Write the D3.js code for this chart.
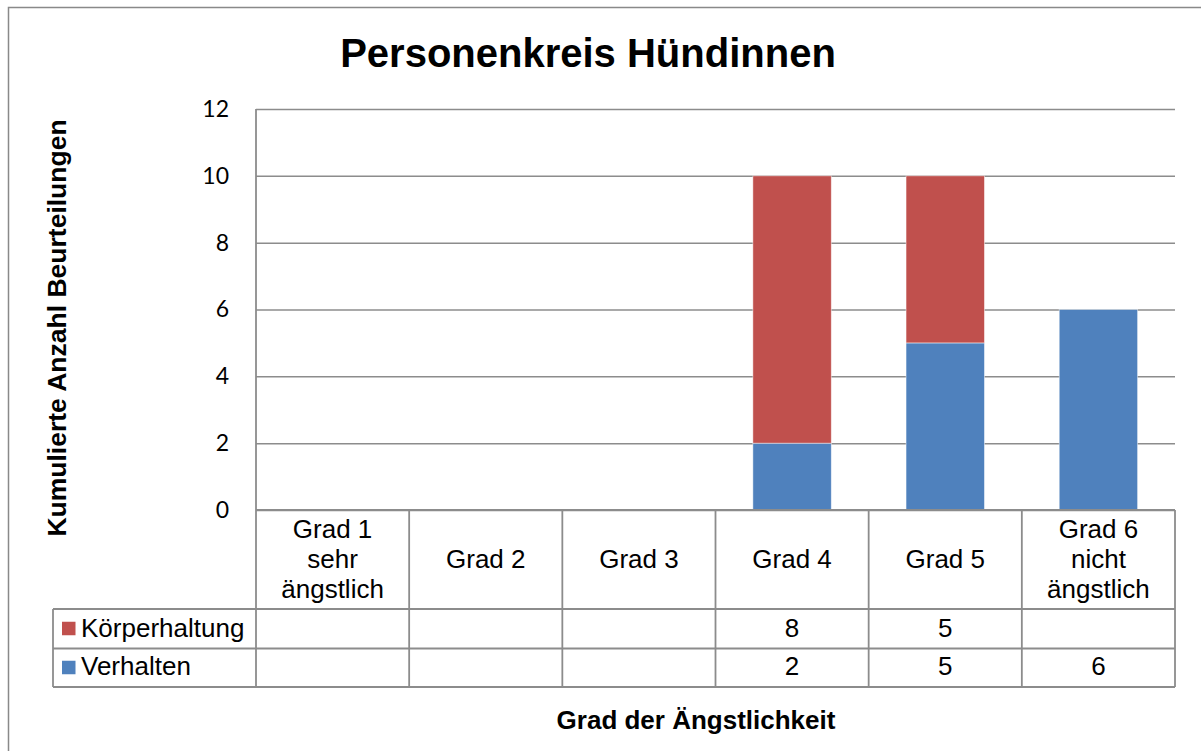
<!DOCTYPE html>
<html>
<head>
<meta charset="utf-8">
<script src="https://cdn.jsdelivr.net/npm/d3@7"></script>
<style>
  html, body { margin: 0; padding: 0; background: #fff; }
  svg { display: block; }
</style>
</head>
<body>
<svg id="chart" width="1201" height="751"></svg>
<script>
// ---- data ----
const categories = ["Grad 1\nsehr\nängstlich", "Grad 2", "Grad 3", "Grad 4", "Grad 5", "Grad 6\nnicht\nängstlich"];
const seriesNames = ["Körperhaltung", "Verhalten"];
const koerperhaltung = [null, null, null, 8, 5, null];
const verhalten = [null, null, null, 2, 5, 6];
const yTicks = [0, 2, 4, 6, 8, 10, 12];
const titleText = "Personenkreis Hündinnen";
const xTitle = "Grad der Ängstlichkeit";
const yTitle = "Kumulierte Anzahl Beurteilungen";

// ---- layout ----
const svg = d3.select("#chart");
const colors = { "Körperhaltung": "#C0504D", "Verhalten": "#4F81BD" };
const lineCol = "#8c8c8c";
const plot = { left: 256, right: 1175, top: 109, bottom: 510 };
const tableRows = [510, 609, 648.5, 687];
const legendLeft = 53;

const x = d3.scaleBand().domain(d3.range(categories.length)).range([plot.left, plot.right]).padding(0);
const y = d3.scaleLinear().domain([0, 12]).range([plot.bottom, plot.top]);
const barW = x.bandwidth() * 0.512;

// outer border
svg.append("rect").attr("x", 8.5).attr("y", 7.5).attr("width", 1210).attr("height", 770)
  .attr("fill", "none").attr("stroke", "#898989").attr("stroke-width", 1.5);

// title
svg.append("text").attr("x", 588).attr("y", 67).attr("text-anchor", "middle")
  .attr("font-family", "Liberation Sans, Arial, sans-serif").attr("font-weight", "bold")
  .attr("font-size", 40).attr("fill", "#000").text(titleText);

// y axis with gridlines
const yAxis = d3.axisLeft(y).tickValues(yTicks).tickSize(-(plot.right - plot.left)).tickPadding(27);
const gy = svg.append("g").attr("transform", `translate(${plot.left},0)`).call(yAxis);
gy.select(".domain").remove();
gy.selectAll(".tick line").attr("stroke", lineCol).attr("stroke-width", 1.5);
gy.selectAll(".tick text").attr("font-family", "Lato, Carlito, Calibri, sans-serif")
  .attr("font-size", 23).attr("fill", "#000");

// stacked bars
const rows = categories.map((c, i) => ({ i, "Verhalten": verhalten[i] || 0, "Körperhaltung": koerperhaltung[i] || 0 }));
const stack = d3.stack().keys(["Verhalten", "Körperhaltung"])(rows);
svg.append("g").selectAll("g").data(stack).join("g")
  .attr("fill", d => colors[d.key])
  .selectAll("rect").data(d => d.filter(s => s[1] - s[0] > 0)).join("rect")
  .attr("x", d => x(d.data.i) + (x.bandwidth() - barW) / 2)
  .attr("width", barW)
  .attr("y", d => y(d[1]))
  .attr("height", d => y(d[0]) - y(d[1]))
  .attr("stroke", "#ffffff").attr("stroke-opacity", 0.6).attr("stroke-width", 0.8);

// data table lines
const tg = svg.append("g").attr("stroke", lineCol).attr("stroke-width", 1.8).attr("fill", "none");
tg.append("line").attr("x1", plot.left).attr("x2", plot.left).attr("y1", plot.top).attr("y2", tableRows[3]);
tg.append("line").attr("x1", plot.left).attr("x2", plot.right).attr("y1", tableRows[0]).attr("y2", tableRows[0]);
[1, 2, 3].forEach(r => {
  tg.append("line").attr("x1", legendLeft).attr("x2", plot.right).attr("y1", tableRows[r]).attr("y2", tableRows[r]);
});
categories.forEach((c, i) => {
  const xr = x(i) + x.bandwidth();
  tg.append("line").attr("x1", xr).attr("x2", xr).attr("y1", tableRows[0]).attr("y2", tableRows[3]);
});
tg.append("line").attr("x1", legendLeft).attr("x2", legendLeft).attr("y1", tableRows[1]).attr("y2", tableRows[3]);

// category labels
const font = "Liberation Sans, Arial, sans-serif";
categories.forEach((c, i) => {
  const lines = c.split("\n");
  const cx = x(i) + x.bandwidth() / 2;
  const t = svg.append("text").attr("text-anchor", "middle").attr("font-family", font)
    .attr("font-size", 26).attr("fill", "#000");
  lines.forEach((ln, k) => {
    t.append("tspan").attr("x", cx).attr("y", 568 + (k - (lines.length - 1) / 2) * 30).text(ln);
  });
});

// table values + legend
const seriesData = [koerperhaltung, verhalten];
const rowBaselines = [636.5, 674.5];
seriesNames.forEach((name, r) => {
  const top = tableRows[r + 1];
  const bot = tableRows[r + 2];
  const mid = (top + bot) / 2;
  svg.append("rect").attr("x", 62).attr("y", mid - 7).attr("width", 13.5).attr("height", 13.5)
    .attr("fill", colors[name]);
  svg.append("text").attr("x", 81).attr("y", rowBaselines[r]).attr("font-family", font)
    .attr("font-size", 26).attr("fill", "#000").text(name);
  seriesData[r].forEach((v, i) => {
    if (v == null) return;
    svg.append("text").attr("x", x(i) + x.bandwidth() / 2).attr("y", rowBaselines[r])
      .attr("text-anchor", "middle").attr("font-family", font).attr("font-size", 26)
      .attr("fill", "#000").text(v);
  });
});

// axis titles
svg.append("text").attr("x", 696).attr("y", 729).attr("text-anchor", "middle")
  .attr("font-family", font).attr("font-weight", "bold").attr("font-size", 26)
  .attr("fill", "#000").text(xTitle);
svg.append("text").attr("transform", "translate(66,328) rotate(-90)").attr("text-anchor", "middle")
  .attr("font-family", font).attr("font-weight", "bold").attr("font-size", 26.5)
  .attr("fill", "#000").text(yTitle);
</script>
</body>
</html>
